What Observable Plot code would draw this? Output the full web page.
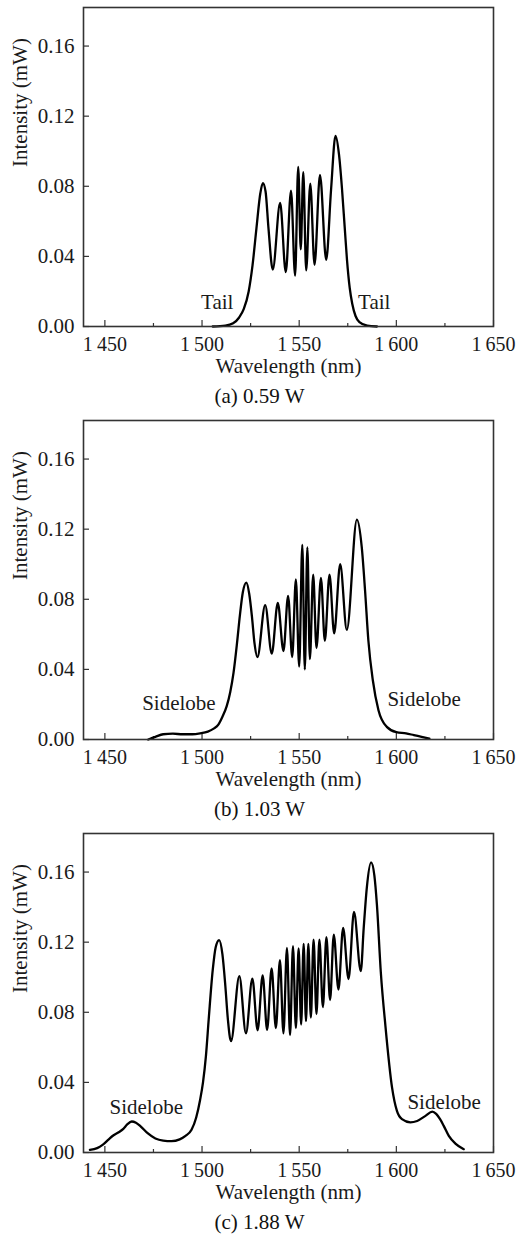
<!DOCTYPE html>
<html><head><meta charset="utf-8">
<script src="https://cdn.jsdelivr.net/npm/d3@7"></script>
<script src="https://cdn.jsdelivr.net/npm/@observablehq/plot@0.6"></script>
<style>
body{margin:0;background:#fff;width:519px;}
.panel{width:519px;height:413px;}
.cap{font-family:"Liberation Serif","Times New Roman",serif;font-size:21px;text-align:center;height:33px;line-height:33px;color:#111;}
svg{display:block}
svg text{font-family:"Liberation Serif","Times New Roman",serif !important;}
</style></head><body><div id="root"></div>
<script>
const xTicks=[1450,1500,1550,1600,1650];
const xMinorTicks=[1475,1525,1575,1625];
const yTicks=[0,0.04,0.08,0.12,0.16];

const waveA=[1505.5,1512,1516,1519,1521.5,1524,1526,1528,1530,1531.3,1532.7,1534.2,1536.4,1540.2,1543.1,1545.8,1547.9,1549.5,1550.8,1552.1,1553.6,1555.7,1557.9,1560.7,1563.9,1566.4,1568.7,1570.5,1572,1573.4,1574.6,1576,1577.3,1579,1581,1585,1590];
const intA=[0,0.0005,0.0018,0.005,0.010,0.020,0.035,0.056,0.076,0.0818,0.077,0.056,0.0325,0.0705,0.031,0.0775,0.029,0.091,0.044,0.088,0.032,0.0815,0.0352,0.0865,0.038,0.078,0.1088,0.098,0.079,0.057,0.038,0.022,0.013,0.006,0.0025,0.0005,0];

const waveB=[1472.3,1476,1480,1485,1490,1495,1499,1503,1506,1508.4,1510.5,1512.7,1514.5,1516.2,1518,1519.5,1521,1522.8,1524.3,1525.7,1527,1528.5,1532.5,1535.9,1539.0,1541.9,1544.3,1546.4,1548.3,1550.0,1551.6,1552.9,1554.2,1555.5,1557.2,1558.9,1561.2,1563.2,1565.6,1568.0,1571.1,1574.5,1579.7,1582.2,1583.9,1585.6,1587.9,1590.8,1595.1,1600,1605,1609,1613,1617];
const intB=[0,0.0015,0.003,0.0033,0.0030,0.0030,0.0035,0.0045,0.0062,0.0085,0.013,0.019,0.027,0.038,0.055,0.071,0.084,0.0895,0.083,0.070,0.055,0.047,0.0767,0.049,0.078,0.0505,0.082,0.047,0.0913,0.0416,0.111,0.040,0.1096,0.0459,0.0941,0.0522,0.0922,0.0563,0.0941,0.0605,0.1000,0.0625,0.1255,0.1097,0.085,0.0565,0.0338,0.0167,0.0072,0.0042,0.0035,0.0025,0.0015,0.0005];

const waveC=[1442.3,1446,1449,1452,1454.3,1456.9,1459.5,1461.5,1463.8,1466,1468.5,1472,1476,1480,1484.3,1488.5,1491.5,1494.6,1497,1499,1500.5,1502,1503.5,1505.5,1507,1508.8,1510.5,1512,1513.3,1514.9,1519.2,1522.6,1525.9,1528.6,1531.2,1533.5,1535.8,1538.0,1540.1,1541.9,1543.7,1545.3,1546.8,1548.3,1549.7,1551.0,1552.3,1553.5,1554.7,1556.0,1557.4,1558.9,1560.4,1562.2,1564.0,1565.9,1567.8,1570.2,1572.6,1575.4,1578.2,1581.7,1583.2,1584.8,1587.0,1588.7,1590,1592,1594.4,1597.8,1600.3,1602.9,1607.2,1610.7,1615,1618.5,1620.5,1622.5,1624.4,1627,1630.4,1634.7];
const intC=[0.0015,0.0025,0.0045,0.0075,0.0097,0.0114,0.0135,0.016,0.0177,0.0170,0.0148,0.0110,0.0080,0.0068,0.0065,0.0075,0.0095,0.0130,0.0200,0.030,0.040,0.055,0.077,0.104,0.117,0.1212,0.113,0.095,0.076,0.0635,0.1006,0.068,0.0992,0.0697,0.101,0.070,0.105,0.071,0.1097,0.068,0.1167,0.067,0.1177,0.071,0.1164,0.073,0.119,0.075,0.119,0.077,0.1215,0.079,0.1215,0.083,0.1228,0.087,0.1243,0.093,0.1281,0.099,0.1372,0.1035,0.128,0.151,0.1655,0.158,0.1414,0.103,0.072,0.037,0.0237,0.019,0.0172,0.018,0.0209,0.0233,0.022,0.019,0.0152,0.0095,0.0051,0.0019];

const notesA=["Tail","Tail"], noteWaveA=[1507.8,1588.6], noteIntA=[0.0137,0.0137];
const notesB=["Sidelobe","Sidelobe"], noteWaveB=[1488.1,1614.3], noteIntB=[0.0205,0.0228];
const notesC=["Sidelobe","Sidelobe"], noteWaveC=[1471.3,1624.6], noteIntC=[0.026,0.0285];

const captions=["(a) 0.59 W","(b) 1.03 W","(c) 1.88 W"];
const xLabel="Wavelength (nm)", yLabel="Intensity (mW)";

const panels=[
 {wave:waveA,int:intA,notes:notesA,nw:noteWaveA,ni:noteIntA},
 {wave:waveB,int:intB,notes:notesB,nw:noteWaveB,ni:noteIntB},
 {wave:waveC,int:intC,notes:notesC,nw:noteWaveC,ni:noteIntC}
];
const FONT='"Liberation Serif","Times New Roman",serif';
const fmtX=d=>{const s=String(d);return s[0]+"\u2009"+s.slice(1);};

panels.forEach((p,k)=>{
 const data=p.wave.map((w,i)=>({w,v:p.int[i]}));
 const notes=p.notes.map((t,i)=>({t,w:p.nw[i],v:p.ni[i]}));
 const chart=Plot.plot({
  width:519,height:380,marginLeft:83,marginRight:26,marginTop:7,marginBottom:54,
  style:{fontFamily:FONT,fontSize:"21px",color:"#1a1a1a",background:"white"},
  x:{domain:[1439,1650]}, y:{domain:[0,0.182]},
  marks:[
   Plot.axisX({ticks:xTicks,tickSize:-6,tickFormat:()=>"",label:null,stroke:"#333",strokeWidth:1.2}),
   Plot.axisX({ticks:xMinorTicks,tickSize:-3,tickFormat:()=>"",label:null,stroke:"#333",strokeWidth:1.2}),
   Plot.axisX({ticks:xTicks,tickSize:0,tickPadding:10,tickFormat:fmtX,label:null,fill:"#1a1a1a",fontFamily:FONT,fontSize:20}),
   Plot.axisY({ticks:yTicks,tickSize:-6,tickFormat:()=>"",label:null,stroke:"#333",strokeWidth:1.2}),
   Plot.axisY({ticks:yTicks,tickSize:0,tickPadding:9,tickFormat:d=>d.toFixed(2),label:null,fill:"#1a1a1a",fontFamily:FONT,fontSize:21}),
   Plot.line(data,{x:"w",y:"v",curve:"monotone-x",stroke:"#000",strokeWidth:2.3}),
   Plot.text(notes,{x:"w",y:"v",text:"t",fill:"#1a1a1a",fontSize:21,fontFamily:FONT}),
   Plot.text([xLabel],{frameAnchor:"bottom",dy:46,fill:"#1a1a1a",fontSize:21,fontFamily:FONT}),
   Plot.text([yLabel],{frameAnchor:"left",dx:-63,rotate:-90,fill:"#1a1a1a",fontSize:21,fontFamily:FONT}),
   Plot.frame({stroke:"#333",strokeWidth:1.6})
  ]
 });
 const div=document.createElement("div");div.className="panel";
 div.appendChild(chart);
 const cap=document.createElement("div");cap.className="cap";cap.textContent=captions[k];
 div.appendChild(cap);
 document.getElementById("root").appendChild(div);
});
</script></body></html>
